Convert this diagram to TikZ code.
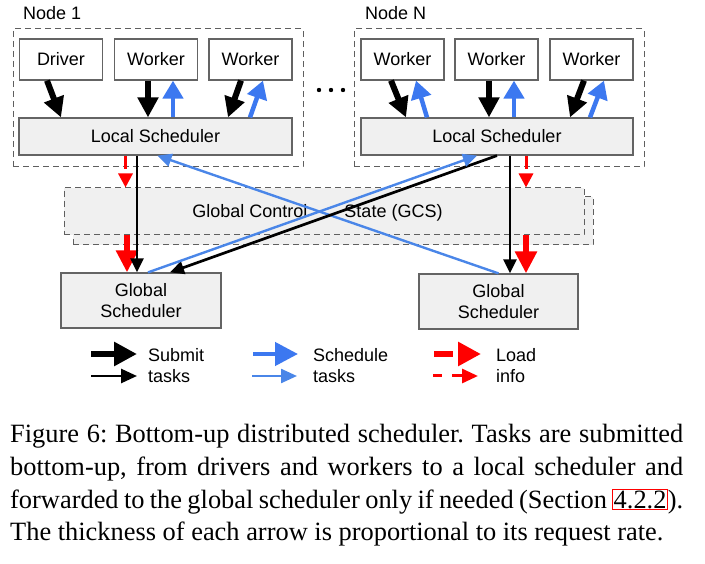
\documentclass[tikz,border=0pt]{standalone}
\usepackage{fontspec}
\setmainfont{Liberation Serif}
\setsansfont{Liberation Sans}
\usetikzlibrary{arrows.meta}
\definecolor{boxgray}{RGB}{100,100,100}
\definecolor{dashgray}{RGB}{95,95,95}
\definecolor{lightfill}{RGB}{240,240,240}
\definecolor{schedblue}{RGB}{60,120,240}
\definecolor{thinblue}{RGB}{74,134,232}
\newcommand{\lbl}{\fontsize{18}{21.5}\selectfont\sffamily}

\begin{document}
\begin{tikzpicture}[x=1pt,y=-1pt,
   proc/.style={draw=boxgray,line width=1.2pt,minimum width=83pt,minimum height=41pt,inner sep=0pt,font=\lbl},
   sched/.style={proc,fill=lightfill},
   hostbox/.style={draw=dashgray,line width=1pt,dash pattern=on 6pt off 4pt,inner sep=0pt},
   submit/.style={-{Triangle[length=20pt,width=20pt]},line width=6pt},
   submitthin/.style={-{Triangle[length=14pt,width=13pt]},line width=2.7pt},
   schedule/.style={schedblue,-{Triangle[length=18pt,width=20pt]},line width=4.5pt},
   schedulethin/.style={thinblue,-{Triangle[length=14pt,width=13pt]},line width=2.4pt},
   load/.style={red,-{Triangle[length=22pt,width=21pt]},line width=6pt},
   loadthin/.style={red,-{Triangle[length=14pt,width=14pt]},line width=3pt,dash pattern=on 13pt off 6pt}]
   \useasboundingbox (0,0) rectangle (705,564);

   % nodes 1 and N
   \node[hostbox,minimum width=290pt,minimum height=138pt] (host1) at (158,98) {};
   \node[hostbox,minimum width=290pt,minimum height=138pt] (hostn) at (499,98) {};
   \node[anchor=base west,font=\lbl,inner sep=0pt] (lbl1) at (23,20) {Node 1};
   \node[anchor=base west,font=\lbl,inner sep=0pt] (lbln) at (365,20) {Node N};
   \fill (319,90) circle (2.2pt) (331,90) circle (2.2pt) (343,90) circle (2.2pt);

   \node[proc] (drv) at (61,59.5)    {Driver};
   \node[proc] (w11) at (156,59.5)   {Worker};
   \node[proc] (w12) at (250.5,59.5) {Worker};
   \node[sched,minimum width=273pt,minimum height=37pt] (ls1) at (155.5,136.5) {Local Scheduler};

   \node[proc] (wn1) at (402.5,59.5) {Worker};
   \node[proc] (wn2) at (496.5,59.5) {Worker};
   \node[proc] (wn3) at (591.5,59.5) {Worker};
   \node[sched,minimum width=272pt,minimum height=37pt] (lsn) at (497,136.5) {Local Scheduler};

   % GCS, two sheets
   \node[hostbox,fill=lightfill,minimum width=520pt,minimum height=48pt] (gcsb) at (333,221) {};
   \node[hostbox,fill=lightfill,minimum width=520pt,minimum height=47pt] (gcs) at (324,211.5) {};
   \node[font=\lbl,inner sep=0pt] (gcstxt) at (317.5,213) {Global Control\hspace{37pt}State (GCS)};

   \node[sched,minimum width=160pt,minimum height=55pt,align=center] (gs1) at (141,300.5) {Global\\Scheduler};
   \node[sched,minimum width=159pt,minimum height=55pt,align=center] (gsn) at (498.5,301.5) {Global\\Scheduler};

   % inside node 1
   \draw[submit]   ([xshift=-14pt]drv.south) -- (drv.south |- ls1.north);
   \draw[submit]   ([xshift=-8pt]w11.south) -- ([xshift=-8pt]w11.south |- ls1.north);
   \draw[schedule] ([xshift=17pt]w11.south |- ls1.north) -- ([xshift=17pt]w11.south);
   \draw[submit]   ([xshift=-9.5pt]w12.south) -- ([xshift=-22.5pt]w12.south |- ls1.north);
   \draw[schedule] ([xshift=-0.5pt]w12.south |- ls1.north) -- ([xshift=12.5pt]w12.south);

   % inside node N
   \draw[submit]   ([xshift=-11.5pt]wn1.south) -- ([xshift=3.5pt]wn1.south |- lsn.north);
   \draw[schedule] ([xshift=24.5pt]wn1.south |- lsn.north) -- ([xshift=13.5pt]wn1.south);
   \draw[submit]   ([xshift=-7.5pt]wn2.south) -- ([xshift=-7.5pt]wn2.south |- lsn.north);
   \draw[schedule] ([xshift=17.5pt]wn2.south |- lsn.north) -- ([xshift=17.5pt]wn2.south);
   \draw[submit]   ([xshift=-7.5pt]wn3.south) -- ([xshift=-21.5pt]wn3.south |- lsn.north);
   \draw[schedule] ([xshift=-1.5pt]wn3.south |- lsn.north) -- ([xshift=12.5pt]wn3.south);

   % between schedulers
   \draw[loadthin]     ([xshift=-30pt]ls1.south) -- ([xshift=-30pt]ls1.south |- gcs.north);
   \draw[load]         ([xshift=-14pt]gs1.north |- gcs.south) -- ([xshift=-14pt]gs1.north);
   \draw[submitthin]   ([xshift=-18.5pt]ls1.south) -- ([xshift=-18.5pt]ls1.south |- gs1.north);
   \draw[schedulethin] (gsn.north) -- ([xshift=2pt]ls1.south);
   \draw[submitthin]   (lsn.south) -- ([xshift=29pt]gs1.north);
   \draw[schedulethin] ([xshift=7pt]gs1.north) -- ([xshift=-20pt]lsn.south);
   \draw[submitthin]   ([xshift=13pt]lsn.south) -- ([xshift=13pt]lsn.south |- gsn.north);
   \draw[loadthin]     ([xshift=29pt]lsn.south) -- ([xshift=29pt]lsn.south |- gcs.north);
   \draw[load]         ([xshift=27.5pt]gsn.north |- gcs.south) -- ([xshift=27.5pt]gsn.north);

   % legend
   \coordinate (k1a) at (91,354);  \coordinate (k1b) at (137,354);
   \coordinate (k2a) at (91,376);  \coordinate (k2b) at (137,376);
   \coordinate (k3a) at (253,354); \coordinate (k3b) at (298,354);
   \coordinate (k4a) at (252,376); \coordinate (k4b) at (297,376);
   \coordinate (k5a) at (434,354); \coordinate (k5b) at (481,354);
   \coordinate (k6a) at (433,376); \coordinate (k6b) at (478,376);
   \draw[submit,-{Triangle[length=23pt,width=23pt]}]       (k1a) -- (k1b);
   \draw[submitthin,-{Triangle[length=16pt,width=14pt]}]   (k2a) -- (k2b);
   \draw[schedule,-{Triangle[length=23pt,width=23pt]}]     (k3a) -- (k3b);
   \draw[schedulethin,-{Triangle[length=16pt,width=14pt]}] (k4a) -- (k4b);
   \draw[load,-{Triangle[length=23pt,width=23pt]},dash pattern=on 19pt off 10pt] (k5a) -- (k5b);
   \draw[loadthin,-{Triangle[length=16pt,width=14pt]},dash pattern=on 9pt off 10pt on 20pt] (k6a) -- (k6b);
   \node[anchor=west,align=left,font=\lbl,inner sep=0pt] (ktxt1) at (148,365.5) {Submit\\tasks};
   \node[anchor=west,align=left,font=\lbl,inner sep=0pt] (ktxt2) at (313,365.5) {Schedule\\tasks};
   \node[anchor=west,align=left,font=\lbl,inner sep=0pt] (ktxt3) at (496,365.5) {Load\\info};

   % caption
   \node[anchor=north west,text width=673pt,align=justify,inner sep=0pt,
         font=\fontsize{26.4}{32.8}\selectfont\frenchspacing] (cap) at (10,424)
     {Figure 6:\ Bottom-up distributed scheduler. Tasks are submitted\linebreak
      bottom-up, from drivers and workers to a local scheduler and\linebreak
      forwarded to the global scheduler only if needed (Section~{\setlength{\fboxsep}{0.3pt}\setlength{\fboxrule}{1pt}\color{red}\fbox{\color{black}4.2.2}}).\linebreak
      The thickness of each arrow is proportional to its request rate.};
\end{tikzpicture}
\end{document}
